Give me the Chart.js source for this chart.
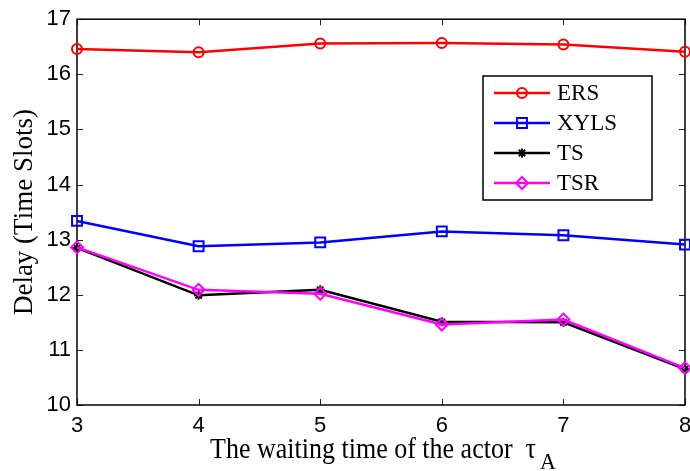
<!DOCTYPE html>
<html>
<head>
<meta charset="utf-8">
<script src="https://cdn.jsdelivr.net/npm/chart.js@4.4.1/dist/chart.umd.min.js"></script>
<style>
  html, body { margin: 0; padding: 0; background: #fff; }
  #wrap { width: 690px; height: 471px; }
</style>
</head>
<body>
<div id="wrap"><canvas id="chart" width="690" height="471"></canvas></div>
<script>
const waitTimes = [3, 4, 5, 6, 7, 8];
const ersDelay = [16.46, 16.40, 16.56, 16.57, 16.54, 16.41];
const xylsDelay = [13.34, 12.88, 12.95, 13.15, 13.08, 12.91];
const tsDelay = [12.85, 11.99, 12.09, 11.51, 11.50, 10.65];
const tsrDelay = [12.86, 12.09, 12.02, 11.46, 11.55, 10.67];
const yTicks = [10, 11, 12, 13, 14, 15, 16, 17];

const pts = (vals) => vals.map((v, i) => ({ x: waitTimes[i], y: v }));

const sansFont = '"Liberation Sans", Arial, sans-serif';
const serifFont = '"Liberation Serif", "Times New Roman", serif';

// MATLAB-like box with inward ticks on all four sides
const matlabBox = {
    id: 'matlabBox',
    beforeDatasetsDraw(chart) {
        const { ctx, chartArea: a, scales: { x, y } } = chart;
        ctx.save();
        ctx.strokeStyle = '#222';
        ctx.lineWidth = 1;
        ctx.beginPath();
        x.ticks.forEach((t) => {
            const px = Math.round(x.getPixelForValue(t.value)) + 0.5;
            ctx.moveTo(px, a.bottom); ctx.lineTo(px, a.bottom - 6);
            ctx.moveTo(px, a.top); ctx.lineTo(px, a.top + 6);
        });
        y.ticks.forEach((t) => {
            const py = Math.round(y.getPixelForValue(t.value)) + 0.5;
            ctx.moveTo(a.left, py); ctx.lineTo(a.left + 6, py);
            ctx.moveTo(a.right, py); ctx.lineTo(a.right - 6, py);
        });
        ctx.stroke();
        ctx.strokeStyle = '#000';
        ctx.lineWidth = 1.5;
        ctx.strokeRect(a.left, a.top, a.right - a.left, a.bottom - a.top);
        ctx.restore();
    },
    afterDraw(chart) {
        const { ctx, chartArea: a } = chart;
        ctx.save();
        // x axis title with subscript (slightly tall, like the source figure)
        const main = 'The waiting time of the actor  \u03c4';
        const sub = 'A';
        ctx.font = '26px ' + serifFont;
        const wMain = ctx.measureText(main).width;
        ctx.font = '22px ' + serifFont;
        const wSub = ctx.measureText(sub).width;
        const x0 = (a.left + a.right) / 2 + 2 - (wMain + 4 + wSub) / 2;
        ctx.fillStyle = '#000';
        ctx.textBaseline = 'alphabetic';
        ctx.textAlign = 'left';
        ctx.save();
        ctx.translate(x0, 458);
        ctx.scale(1, 1.12);
        ctx.font = '26px ' + serifFont;
        ctx.fillText(main, 0, 0);
        ctx.restore();
        ctx.save();
        ctx.translate(x0 + wMain + 4, 469);
        ctx.scale(1, 1.08);
        ctx.font = '22px ' + serifFont;
        ctx.fillText(sub, 0, 0);
        ctx.restore();

        // legend
        const box = { l: 483, t: 76, r: 652, b: 200 };
        ctx.fillStyle = '#fff';
        ctx.fillRect(box.l, box.t, box.r - box.l, box.b - box.t);
        ctx.strokeStyle = '#000';
        ctx.lineWidth = 1.5;
        ctx.strokeRect(box.l, box.t, box.r - box.l, box.b - box.t);
        const rows = [93, 123, 153, 183];
        chart.data.datasets.forEach((ds, i) => {
            const yy = rows[i];
            ctx.strokeStyle = ds.borderColor;
            ctx.lineWidth = ds.borderWidth;
            ctx.beginPath();
            ctx.moveTo(494, yy); ctx.lineTo(550, yy);
            ctx.stroke();
            ctx.fillStyle = 'rgba(0,0,0,0)';
            ctx.strokeStyle = ds.pointBorderColor;
            ctx.lineWidth = ds.pointBorderWidth;
            Chart.helpers.drawPoint(ctx, {
                pointStyle: ds.pointStyle,
                radius: ds.pointRadius,
                rotation: 0,
                borderWidth: ds.pointBorderWidth,
            }, 522, yy);
            ctx.fillStyle = '#000';
            ctx.font = '23px ' + serifFont;
            ctx.textBaseline = 'middle';
            ctx.fillText(ds.label, 557, yy + 1);
        });
        ctx.restore();
    },
};

const series = (label, data, color, style, radius, order) => ({
    label,
    data: pts(data),
    borderColor: color,
    borderWidth: 2.5,
    pointStyle: style,
    pointRadius: radius,
    pointHoverRadius: radius,
    pointBorderColor: color,
    pointBorderWidth: 2,
    pointBackgroundColor: 'rgba(0,0,0,0)',
    tension: 0,
    clip: false,
    order,
});

new Chart(document.getElementById('chart'), {
    type: 'line',
    data: {
        datasets: [
            series('ERS', ersDelay, '#ff0000', 'circle', 5, 1),
            series('XYLS', xylsDelay, '#0000ff', 'rect', 7, 1),
            series('TS', tsDelay, '#000000', 'star', 4.5, 2),
            series('TSR', tsrDelay, '#ff00ff', 'rectRot', 6, 0),
        ],
    },
    options: {
        responsive: false,
        animation: false,
        layout: { autoPadding: false, padding: { top: 19, right: 5, left: 0, bottom: 0 } },
        plugins: { legend: { display: false }, tooltip: { enabled: false } },
        scales: {
            x: {
                type: 'linear',
                min: 3,
                max: 8,
                ticks: { stepSize: 1, padding: 8, color: '#000', font: { family: sansFont, size: 22 } },
                grid: { display: false, drawTicks: false },
                border: { display: false },
                afterFit(scale) {
                    scale.height = 66;
                    scale.paddingRight = 0;
                    scale.paddingLeft = 0;
                },
            },
            y: {
                min: 10,
                max: 17,
                afterBuildTicks(scale) {
                    scale.ticks = yTicks.map((v) => ({ value: v }));
                },
                ticks: { padding: 6, color: '#000', font: { family: sansFont, size: 22 } },
                grid: { display: false, drawTicks: false },
                border: { display: false },
                title: {
                    display: true,
                    text: 'Delay (Time Slots)',
                    color: '#000',
                    font: { family: serifFont, size: 27 },
                    padding: { top: 9, bottom: 0 },
                },
                afterFit(scale) {
                    scale.width = 77;
                },
            },
        },
    },
    plugins: [matlabBox],
});
</script>
</body>
</html>
